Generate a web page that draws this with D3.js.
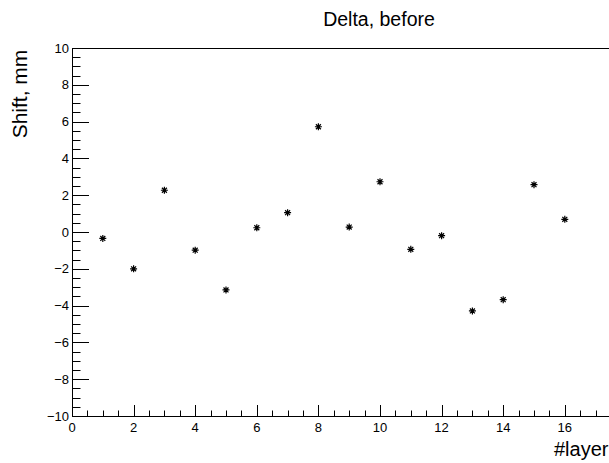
<!DOCTYPE html>
<html>
<head>
<meta charset="utf-8">
<script src="https://cdn.jsdelivr.net/npm/d3@7/dist/d3.min.js"></script>
<style>
  html, body { margin: 0; padding: 0; background: #fff; }
  svg { display: block; font-family: "Liberation Sans", Arial, Helvetica, sans-serif; }
</style>
</head>
<body>
<svg id="chart" width="609" height="463"></svg>
<script>
// Layer shift measurements (mm) per layer
const layers = [1, 2, 3, 4, 5, 6, 7, 8, 9, 10, 11, 12, 13, 14, 15, 16];
const shifts = [-0.35, -2.0, 2.27, -0.99, -3.15, 0.23, 1.05, 5.72, 0.27, 2.73, -0.94, -0.2, -4.29, -3.68, 2.57, 0.69];
const xTicks = [0, 2, 4, 6, 8, 10, 12, 14, 16, 18];
const xTickLabels = [0, 2, 4, 6, 8, 10, 12, 14, 16];
const yTicks = [-10, -8, -6, -4, -2, 0, 2, 4, 6, 8, 10];
const titleText = "Delta, before";
const xTitle = "#layer";
const yTitle = "Shift, mm";

const svg = d3.select("#chart");
const frame = { left: 72, top: 48, bottom: 416 };

const x = d3.scaleLinear().domain([0, 18]).range([frame.left, frame.left + 18 * 30.8]);
const y = d3.scaleLinear().domain([-10, 10]).range([frame.bottom, frame.top]);

const xRight = x.range()[1];

// Frame box
svg.append("rect")
  .attr("x", frame.left + 0.5).attr("y", frame.top + 0.5)
  .attr("width", xRight - frame.left).attr("height", frame.bottom - frame.top)
  .attr("fill", "none").attr("stroke", "#000").attr("stroke-width", 1);

// Minor tick positions every 0.5 units
const xMinor = d3.range(0, 18.01, 0.5).filter(v => Math.abs(v % 2) > 1e-6);
const yMinor = d3.range(-10, 10.01, 0.5).filter(v => Math.abs(v % 2) > 1e-6);

const g = svg.append("g").attr("stroke", "#000").attr("stroke-width", 1);

// X axis ticks (pointing up into the frame)
g.selectAll(".xmaj").data(xTicks).join("line")
  .attr("x1", d => Math.round(x(d)) + 0.5).attr("x2", d => Math.round(x(d)) + 0.5)
  .attr("y1", frame.bottom).attr("y2", frame.bottom - 11);
g.selectAll(".xmin").data(xMinor).join("line")
  .attr("x1", d => Math.round(x(d)) + 0.5).attr("x2", d => Math.round(x(d)) + 0.5)
  .attr("y1", frame.bottom).attr("y2", frame.bottom - 5.5);

// Y axis ticks (pointing right into the frame)
g.selectAll(".ymaj").data(yTicks).join("line")
  .attr("y1", d => Math.round(y(d)) + 0.5).attr("y2", d => Math.round(y(d)) + 0.5)
  .attr("x1", frame.left).attr("x2", frame.left + 17);
g.selectAll(".ymin").data(yMinor).join("line")
  .attr("y1", d => Math.round(y(d)) + 0.5).attr("y2", d => Math.round(y(d)) + 0.5)
  .attr("x1", frame.left).attr("x2", frame.left + 8.5);

// Tick labels
const fmt = v => v < 0 ? "\u2212" + Math.abs(v) : String(v);
svg.append("g").selectAll("text").data(xTickLabels).join("text")
  .attr("x", d => x(d)).attr("y", 432)
  .attr("text-anchor", "middle").attr("font-size", 13).attr("fill", "#000")
  .text(fmt);
svg.append("g").selectAll("text").data(yTicks).join("text")
  .attr("x", 69).attr("y", d => y(d) + 4.5)
  .attr("text-anchor", "end").attr("font-size", 13).attr("fill", "#000")
  .text(fmt);

// Titles
svg.append("text").attr("x", 379).attr("y", 26)
  .attr("text-anchor", "middle").attr("font-size", 19.5).attr("fill", "#000")
  .text(titleText);
svg.append("text").attr("x", 554).attr("y", 456)
  .attr("text-anchor", "start").attr("font-size", 20).attr("fill", "#000")
  .text(xTitle);
svg.append("text")
  .attr("transform", "translate(27,94) rotate(-90)")
  .attr("text-anchor", "middle").attr("font-size", 21).attr("fill", "#000")
  .text(yTitle);

// Star markers
const r = 3.5, d45 = r * Math.SQRT1_2;
const star = `M${-r},0L${r},0M0,${-r}L0,${r}M${-d45},${-d45}L${d45},${d45}M${-d45},${d45}L${d45},${-d45}`;
svg.append("g").selectAll("path").data(layers).join("path")
  .attr("transform", (d, i) => `translate(${x(d)},${y(shifts[i])})`)
  .attr("d", star)
  .attr("fill", "none").attr("stroke", "#000").attr("stroke-width", 1.2);
</script>
</body>
</html>
